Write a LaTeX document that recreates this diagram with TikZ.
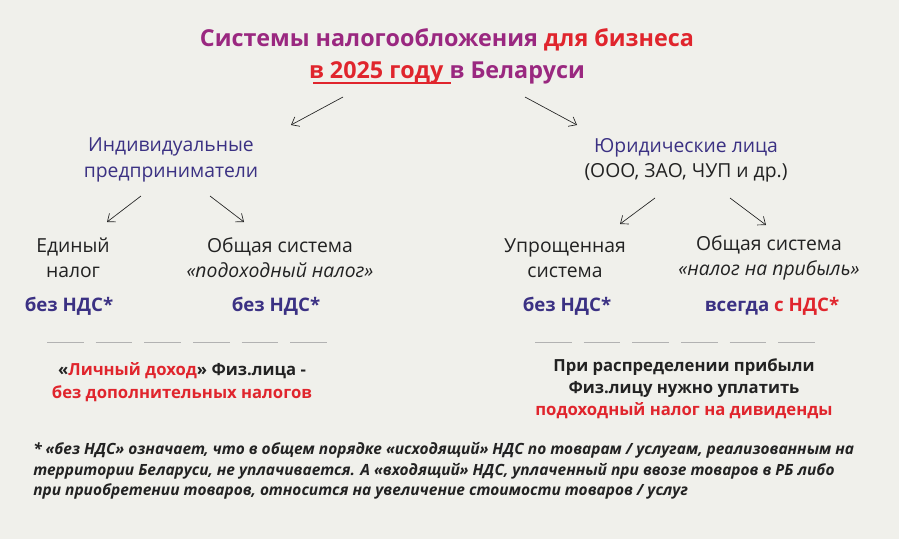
\documentclass[tikz,border=0pt]{standalone}
\usepackage{fontspec}
\setmainfont{Open Sans}
\usetikzlibrary{arrows.meta}
\definecolor{bg}{HTML}{F0F0EB}
\definecolor{ttl}{HTML}{9A2880}
\definecolor{rd}{HTML}{E0252D}
\definecolor{bl}{HTML}{3B3183}
\definecolor{dk}{HTML}{222222}
\begin{document}
\begin{tikzpicture}[x=0.75pt,y=-0.75pt,
  lbl/.style={align=center,font=\fontsize{14.5}{19}\selectfont,text=dk,inner sep=1pt},
  head/.style={lbl,text=bl},
  nds/.style={lbl,text=bl,font=\fontsize{14}{16}\selectfont\bfseries},
  arr/.style={-{Straight Barb[length=5pt,width=8pt]},draw=dk,line width=0.5pt},
  dsh/.style={draw=gray!60,line width=0.7pt,dash pattern=on 27.5pt off 9pt}]
\fill[bg] (0,0) rectangle (899,539);
\node[lbl,font=\fontsize{17.5}{24}\selectfont\bfseries,text=ttl] (title) at (447,56)
  {Системы налогообложения \textcolor{rd}{для бизнеса}\\\textcolor{rd}{в 2025 году }в Беларуси};
\draw[rd,line width=0.8pt] (313,83) -- (451,83);
\coordinate (t1) at (343,97); \coordinate (t2) at (525,97);
\node[head] (ip) at (171,160) {Индивидуальные\\предприниматели};
\node[head] (ul) at (686,160) {Юридические лица\\\textcolor{dk}{(ООО, ЗАО, ЧУП и др.)}};
\draw[arr] (t1) -- (291,125) coordinate (ipt);
\draw[arr] (t2) -- (577,125) coordinate (ult);
\coordinate (a1) at (141,196); \coordinate (a2) at (210,196);
\coordinate (b1) at (655,198); \coordinate (b2) at (730,198);
\node[lbl] (en) at (73,258) {Единый\\налог};
\node[lbl] (os1) at (280,258) {Общая система\\\textit{«подоходный налог»}};
\node[lbl] (us) at (565,258) {Упрощенная\\система};
\node[lbl] (os2) at (769,258) {Общая система\\\textit{«налог на прибыль»}};
\draw[arr] (a1) -- (107,222) coordinate (ent);
\draw[arr] (a2) -- (244,222) coordinate (os1t);
\draw[arr] (b1) -- (620,224) coordinate (ust);
\draw[arr] (b2) -- (766,225) coordinate (os2t);
\node[nds] (n1) at (69,306) {без НДС*};
\node[nds] (n2) at (276,306) {без НДС*};
\node[nds] (n3) at (567,306) {без НДС*};
\node[nds] (n4) at (772,306) {всегда \textcolor{rd}{с НДС*}};
\coordinate (d1) at (47,342); \coordinate (d2) at (333,342);
\coordinate (d3) at (535,342); \coordinate (d4) at (824,342);
\draw[dsh] (d1) -- (d2);
\draw[dsh] (d3) -- (d4);
\node[lbl,font=\fontsize{12.5}{17}\selectfont\bfseries] (l1) at (182,382)
  {«\textcolor{rd}{Личный доход}» Физ.лица -\\\textcolor{rd}{без дополнительных налогов}};
\node[lbl,font=\fontsize{12.5}{16.5}\selectfont\bfseries] (r1) at (684,389)
  {При распределении прибыли\\Физ.лицу нужно уплатить\\\textcolor{rd}{подоходный налог на дивиденды}};
\node[anchor=north west,align=left,inner sep=0pt,text=dk,font=\fontsize{11.6}{15.5}\selectfont\itshape\bfseries] (fn) at (33,442)
  {* «без НДС» означает, что в общем порядке «исходящий» НДС по товарам / услугам, реализованным на\\
   территории Беларуси, не уплачивается. А «входящий» НДС, уплаченный при ввозе товаров в РБ либо\\
   при приобретении товаров, относится на увеличение стоимости товаров / услуг};
\end{tikzpicture}
\end{document}
